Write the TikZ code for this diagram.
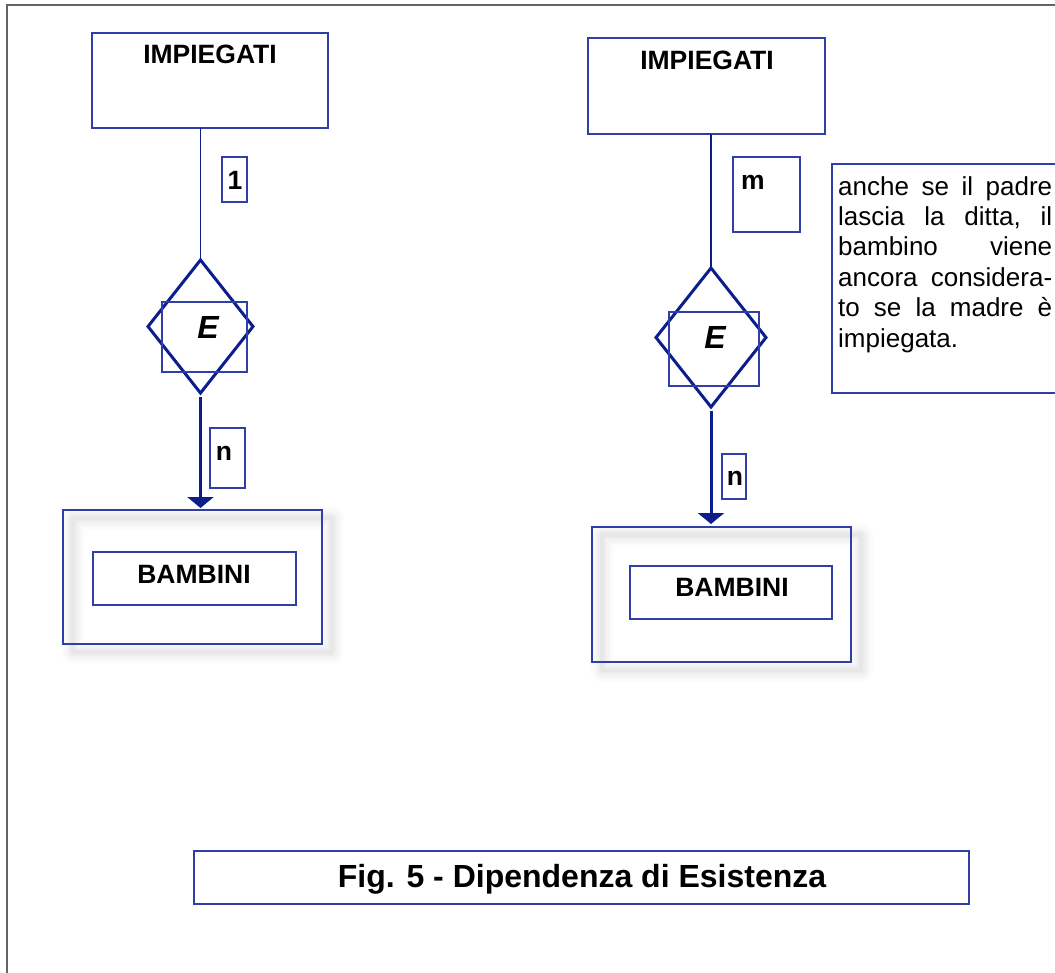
\documentclass[tikz,border=0pt]{standalone}
\usepackage{fontspec}
\setmainfont{Liberation Sans}
\usetikzlibrary{shapes.geometric,arrows.meta}
\definecolor{boxblue}{RGB}{48,62,168}
\definecolor{navy}{RGB}{12,30,140}
\definecolor{framegray}{RGB}{100,100,100}
\tikzset{
  ent/.style={draw=boxblue, line width=1.5pt, rectangle, inner sep=0, outer sep=0},
  tag/.style={draw=boxblue, line width=1.3pt, rectangle, inner sep=0, outer sep=0},
  rel/.style={draw=navy, line width=3pt, diamond, inner sep=0, outer sep=0},
  link/.style={draw=navy, line width=1.5pt},
  arr/.style={draw=navy, line width=3pt, -{Triangle[width=26pt,length=11pt]}},
  bigtxt/.style={anchor=base, inner sep=0, font=\fontsize{26.5}{30}\selectfont\bfseries},
  etxt/.style={anchor=base, inner sep=0, font=\fontsize{32}{36}\selectfont\bfseries\itshape},
  notetxt/.style={anchor=base west, inner sep=0, font=\fontsize{26}{30}\selectfont},
  shadowline/.style={draw=black, line join=round}
}
% soft blurred outline behind the outer entity frames
\newcommand{\softshadow}[2]{%
  \foreach \w/\o in {24/0.012,18/0.015,13/0.018,8/0.022,4/0.025}{%
    \draw[shadowline, line width=\w pt, opacity=\o] #1 rectangle #2;}}
\begin{document}
\begin{tikzpicture}[x=1pt,y=-1pt]
\useasboundingbox (0,0) rectangle (1055,972);
\clip (0,0) rectangle (1055,972);

% page frame
\draw[framegray, line width=2pt] (7,990) -- (7,5) -- (1070,5);

% ---------- left diagram ----------
\node[ent, minimum width=236pt, minimum height=95pt] (imp1) at (210,80.5) {};
\node[bigtxt] (imp1t) at (210,63) {IMPIEGATI};

\node[tag, minimum width=25pt, minimum height=45pt] (c1) at (234.5,179.5) {};
\node[bigtxt] (c1t) at (235,189) {1};

\node[rel, minimum width=105pt, minimum height=133pt] (d1) at (200.5,326.5) {};
\node[tag, minimum width=85pt, minimum height=70pt] (e1) at (204.5,337) {};
\node[etxt] (e1t) at (208,338) {E};

\softshadow{(73,518)}{(332,652)}
\node[ent, minimum width=259pt, minimum height=134pt] (b1) at (192.5,577) {};
\node[ent, minimum width=203pt, minimum height=53pt] (bi1) at (194.5,578.5) {};
\node[bigtxt] (bi1t) at (194,583) {BAMBINI};

\node[tag, minimum width=35pt, minimum height=60pt] (n1) at (227.5,458) {};
\node[bigtxt] (n1t) at (224,460) {n};

\draw[link] (d1.north |- imp1.south) -- (d1.north);
\draw[arr, shorten <=4pt, shorten >=2pt] (d1.south) -- (d1.south |- b1.north);

% ---------- right diagram ----------
\node[ent, minimum width=237pt, minimum height=96pt] (imp2) at (706.5,86) {};
\node[bigtxt] (imp2t) at (707,69) {IMPIEGATI};

\node[tag, minimum width=67pt, minimum height=75pt] (c2) at (766.5,194.5) {};
\node[bigtxt, anchor=base west] (c2t) at (741,189) {m};

\node[rel, minimum width=110pt, minimum height=139pt] (d2) at (711,337.5) {};
\node[tag, minimum width=90pt, minimum height=74pt] (e2) at (714,349) {};
\node[etxt] (e2t) at (715,348) {E};

\softshadow{(602,535)}{(861,670)}
\node[ent, minimum width=259pt, minimum height=135pt] (b2) at (721.5,594.5) {};
\node[ent, minimum width=202pt, minimum height=53pt] (bi2) at (731,592.5) {};
\node[bigtxt] (bi2t) at (732,596) {BAMBINI};

\node[tag, minimum width=24pt, minimum height=45pt] (n2) at (734,476.5) {};
\node[bigtxt] (n2t) at (735,485) {n};

\draw[link] (d2.north |- imp2.south) -- (d2.north);
\draw[arr, shorten <=4pt, shorten >=3pt] (d2.south) -- (d2.south |- b2.north);

% note beside the right diagram
\node[tag, minimum width=240pt, minimum height=229pt] (note) at (952,278.5) {};
\foreach \k/\line in {
  0/{anche\hfill se\hfill il\hfill padre},
  1/{lascia\hfill la\hfill ditta,\hfill il},
  2/{bambino\hfill viene},
  3/{ancora considera-},
  4/{to\hfill se\hfill la\hfill madre\hfill è},
  5/{impiegata.\hfill}}{
  \node[notetxt] (nl\k) at (838,195+30.4*\k) {\hbox to 214pt{\line}};
}

% caption
\node[tag, minimum width=775pt, minimum height=53pt] (cap) at (581.5,877.5) {};
\node[anchor=base, inner sep=0, font=\fontsize{32}{36}\selectfont\bfseries] (capt) at (582,887) {Fig. 5 - Dipendenza di Esistenza};
\end{tikzpicture}
\end{document}
